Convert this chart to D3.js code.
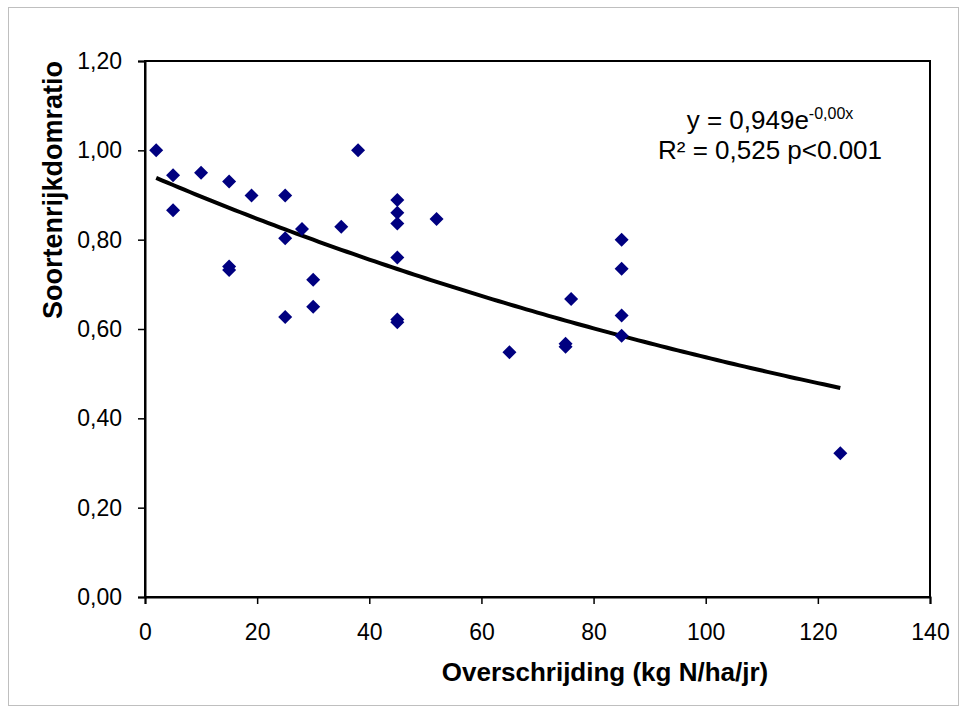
<!DOCTYPE html>
<html>
<head>
<meta charset="utf-8">
<script src="https://cdn.jsdelivr.net/npm/d3@7"></script>
<style>
body { margin: 0; background: #fff; }
text { font-family: Arial, "Liberation Sans", sans-serif; fill: #000; }
</style>
</head>
<body>
<script>
//данные: превышение (x) и отношение (y)
var xValues = [2, 5, 5, 10, 15, 15, 15, 19, 25, 25, 25, 28, 30, 30, 35, 38,
    45, 45, 45, 45, 45, 45, 52, 65, 75, 75, 76, 85, 85, 85, 85, 124];
var yValues = [1.00, 0.944, 0.866, 0.950, 0.930, 0.740, 0.732, 0.899, 0.899, 0.803, 0.627, 0.824, 0.710, 0.650, 0.829, 1.00,
    0.889, 0.860, 0.836, 0.760, 0.621, 0.615, 0.846, 0.548, 0.567, 0.560, 0.667, 0.800, 0.735, 0.630, 0.585, 0.322];
var xTicks = [0, 20, 40, 60, 80, 100, 120, 140];
var yTicks = [0, 0.2, 0.4, 0.6, 0.8, 1.0, 1.2];
//коэффициенты линии тренда y = a*e^(-b*x)
var trendA = 0.949;
var trendB = 0.0057;
var trendRange = [2, 124];

//константы, связанные с canvas svg
var widthSVG = 966;
var heightSVG = 713;
var plotLeft = 145;
var plotRight = 930;
var plotTop = 61;
var plotBottom = 597;

var locale = d3.formatLocale({decimal: ",", thousands: ".", grouping: [3], currency: ["", ""]});
var fmtY = locale.format(".2f");

var canvas = d3.select("body").append("svg")
    .attr("width", widthSVG)
    .attr("height", heightSVG)
    .attr("viewBox", "0 0 " + widthSVG + " " + heightSVG);

//рамка вокруг диаграммы
canvas.append("rect")
    .attr("x", 8.5).attr("y", 7.5)
    .attr("width", 950).attr("height", 698)
    .attr("fill", "none")
    .attr("stroke", "#bfbfbf");

var x = d3.scaleLinear().domain([0, 140]).range([plotLeft, plotRight]);
var y = d3.scaleLinear().domain([0, 1.2]).range([plotBottom, plotTop]);

//рамка области построения
canvas.append("rect")
    .attr("x", plotLeft).attr("y", plotTop)
    .attr("width", plotRight - plotLeft).attr("height", plotBottom - plotTop)
    .attr("fill", "none")
    .attr("stroke", "#000")
    .attr("stroke-width", 2);

var xAxis = canvas.append("g")
    .attr("transform", "translate(0," + plotBottom + ")")
    .call(d3.axisBottom(x).tickValues(xTicks).tickSize(7).tickPadding(20).tickFormat(d3.format("d")));
var yAxis = canvas.append("g")
    .attr("transform", "translate(" + plotLeft + ",0)")
    .call(d3.axisLeft(y).tickValues(yTicks).tickSize(7).tickPadding(16).tickFormat(fmtY));

[xAxis, yAxis].forEach(function(g) {
    g.select(".domain").attr("stroke", "#000").attr("stroke-width", 2);
    g.selectAll(".tick line").attr("stroke", "#000").attr("stroke-width", 1.5);
    g.selectAll(".tick text")
        .attr("font-family", "Arial, 'Liberation Sans', sans-serif")
        .attr("font-size", 23)
        .attr("fill", "#000");
});

//линия тренда
var trendPts = d3.range(trendRange[0], trendRange[1] + 0.5, 1).map(function(v) {
    return [v, trendA * Math.exp(-trendB * v)];
});
canvas.append("path")
    .datum(trendPts)
    .attr("d", d3.line().x(function(d) { return x(d[0]); }).y(function(d) { return y(d[1]); }))
    .attr("fill", "none")
    .attr("stroke", "#000")
    .attr("stroke-width", 4);

//точки-ромбы
var diamond = d3.symbol().type(d3.symbolSquare).size(98);
canvas.append("g").selectAll("path")
    .data(d3.range(xValues.length))
    .join("path")
    .attr("d", diamond)
    .attr("transform", function(i) { return "translate(" + x(xValues[i]) + "," + y(yValues[i]) + ") rotate(45)"; })
    .attr("fill", "#000080");

//подписи осей
canvas.append("text")
    .attr("x", 605).attr("y", 681)
    .attr("text-anchor", "middle")
    .attr("font-size", 26)
    .attr("font-weight", "bold")
    .text("Overschrijding (kg N/ha/jr)");

canvas.append("text")
    .attr("transform", "translate(62,190) rotate(-90)")
    .attr("text-anchor", "middle")
    .attr("font-size", 27)
    .attr("font-weight", "bold")
    .text("Soortenrijkdomratio");

//уравнение тренда
var eq = canvas.append("text")
    .attr("x", 770).attr("y", 129)
    .attr("text-anchor", "middle")
    .attr("font-size", 26);
eq.append("tspan").text("y = 0,949e");
eq.append("tspan").attr("font-size", 16).attr("dy", -10).text("-0,00x");

canvas.append("text")
    .attr("x", 770).attr("y", 159)
    .attr("text-anchor", "middle")
    .attr("font-size", 26)
    .text("R² = 0,525 p<0.001");
</script>
</body>
</html>
